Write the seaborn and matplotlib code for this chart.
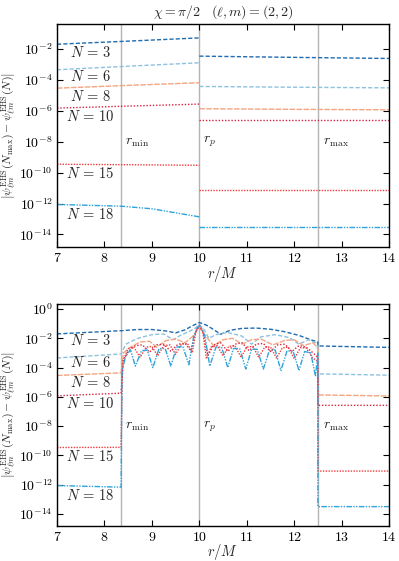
import numpy as np
import pandas as pd
import matplotlib
matplotlib.use("Agg")
import matplotlib.pyplot as plt
from matplotlib.ticker import FuncFormatter, NullLocator
import seaborn as sns

# ---- data (log10 of the error) ----
N_vals = [3, 6, 8, 10, 15, 18]

# upper panel: two pieces, 7..10 and 10..14
r_left_top = [7.0, 8.5, 10.0]
r_right_top = [10.0, 12.0, 14.0]
top_left = {
    3: [-1.70, -1.50, -1.29],
    6: [-3.35, -3.12, -2.90],
    8: [-4.54, -4.36, -4.19],
    10: [-5.83, -5.70, -5.57],
    15: [-9.46, -9.49, -9.53],
    18: [-12.06, -12.20, -12.86],
}
top_right = {
    3: [-2.47, -2.55, -2.62],
    6: [-4.43, -4.48, -4.52],
    8: [-5.87, -5.91, -5.94],
    10: [-6.58, -6.58, -6.58],
    15: [-11.10, -11.10, -11.10],
    18: [-13.50, -13.50, -13.50],
}
# the N=18 left piece bends down, it gets one more point
top_left_r18 = [7.0, 8.35, 9.0, 10.0]
top_left_18 = [-12.06, -12.17, -12.34, -12.86]

# lower panel: one curve each, with jumps at r_min and r_max
r3b = [7.0, 8.35, 8.7, 9.0, 9.3, 9.5, 9.7, 9.85, 10.0, 10.15, 10.3, 10.45, 10.65,
       10.9, 11.2, 11.5, 11.8, 12.1, 12.35, 12.5, 12.5, 13.2, 14.0]
l3b = [-1.70, -1.48, -1.40, -1.40, -1.50, -1.63, -1.42, -1.15, -0.92, -1.10, -1.40,
       -1.72, -1.45, -1.32, -1.30, -1.38, -1.55, -1.80, -2.10, -2.25, -2.52, -2.57, -2.62]

r6b = [7.0, 8.35, 8.45, 8.7, 9.0, 9.25, 9.45, 9.6, 9.8, 9.9, 10.0, 10.1, 10.2, 10.35,
       10.6, 10.9, 11.1, 11.3, 11.6, 11.9, 12.1, 12.3, 12.45, 12.5, 12.5, 13.2, 14.0]
l6b = [-3.34, -3.07, -2.40, -2.00, -1.75, -1.70, -2.10, -1.80, -1.50, -1.35, -1.05, -1.40,
       -2.00, -1.75, -1.60, -1.85, -2.40, -1.90, -1.75, -1.95, -2.40, -2.10, -2.30, -2.60,
       -4.43, -4.47, -4.52]

r8b = [7.0, 8.35, 8.4, 8.55, 8.75, 8.95, 9.1, 9.3, 9.5, 9.7, 9.85, 10.0, 10.15, 10.3,
       10.5, 10.7, 10.9, 11.1, 11.3, 11.55, 11.8, 12.0, 12.2, 12.4, 12.5, 12.5, 13.2, 14.0]
l8b = [-4.54, -4.36, -3.00, -2.60, -2.25, -2.20, -2.60, -2.15, -2.05, -2.30, -1.90, -1.25,
       -1.90, -2.50, -2.10, -2.00, -2.40, -2.10, -2.05, -2.45, -2.15, -2.10, -2.50, -2.30,
       -2.70, -5.87, -5.90, -5.94]

r10b = [7.0, 8.35, 8.4, 8.5, 8.65, 8.8, 8.95, 9.1, 9.25, 9.4, 9.55, 9.7, 9.82, 9.92, 10.0,
        10.08, 10.18, 10.3, 10.45, 10.6, 10.75, 10.9, 11.05, 11.2, 11.35, 11.5, 11.65,
        11.8, 11.95, 12.1, 12.25, 12.4, 12.5, 12.5, 13.2, 14.0]
l10b = [-5.93, -5.75, -3.50, -2.90, -2.50, -2.45, -2.95, -2.45, -2.40, -2.90, -2.40, -2.35,
        -2.85, -1.60, -1.15, -1.60, -3.20, -2.45, -2.30, -2.90, -2.40, -2.30, -2.85, -2.40,
        -2.35, -2.90, -2.45, -2.40, -2.90, -2.50, -2.60, -3.00, -3.30, -6.58, -6.58, -6.58]

r15b = [7.0, 8.35, 8.38, 8.5, 8.62, 8.75, 8.88, 9.0, 9.12, 9.25, 9.38, 9.5, 9.62, 9.75,
        9.85, 9.93, 10.0, 10.07, 10.15, 10.25, 10.38, 10.5, 10.62, 10.75, 10.88, 11.0,
        11.13, 11.25, 11.38, 11.5, 11.63, 11.75, 11.88, 12.0, 12.13, 12.25, 12.38, 12.5,
        12.5, 13.2, 14.0]
l15b = [-9.46, -9.45, -3.60, -2.70, -2.60, -3.30, -2.60, -2.55, -3.20, -2.50, -2.45, -3.10,
        -2.40, -2.35, -3.00, -1.50, -1.10, -1.50, -3.40, -2.60, -2.50, -3.20, -2.55, -2.50,
        -3.30, -2.60, -2.55, -3.30, -2.60, -2.60, -3.35, -2.65, -2.60, -3.40, -2.65, -2.65,
        -3.30, -3.60, -11.07, -11.07, -11.07]

r18b = [7.0, 8.35, 8.37, 8.45, 8.55, 8.65, 8.78, 8.9, 9.02, 9.15, 9.28, 9.4, 9.52, 9.65,
        9.78, 9.88, 9.95, 10.0, 10.05, 10.12, 10.22, 10.35, 10.47, 10.6, 10.72, 10.85,
        10.98, 11.1, 11.22, 11.35, 11.48, 11.6, 11.72, 11.85, 11.98, 12.1, 12.22, 12.35,
        12.45, 12.5, 12.5, 13.2, 14.0]
l18b = [-12.06, -12.17, -4.20, -3.20, -2.80, -3.90, -2.85, -2.80, -4.00, -2.70, -2.70,
        -3.90, -2.60, -2.55, -3.80, -1.90, -1.30, -1.15, -1.30, -1.90, -3.90, -2.60, -2.60,
        -4.00, -2.70, -2.70, -4.10, -2.75, -2.75, -4.10, -2.80, -2.80, -4.20, -2.85, -2.90,
        -4.20, -2.90, -3.00, -4.60, -3.00, -13.50, -13.50, -13.50]

bottom_r = {3: r3b, 6: r6b, 8: r8b, 10: r10b, 15: r15b, 18: r18b}
bottom_l = {3: l3b, 6: l6b, 8: l8b, 10: l10b, 15: l15b, 18: l18b}

r_min, r_p, r_max = 8.35, 10.0, 12.5

# ---- styling ----
colors = {3: "#1f6cb0", 6: "#8dc2df", 8: "#f4a582", 10: "#d6233f", 15: "#f23b3b", 18: "#2ea3dc"}
styles = {3: (0, (3, 1.5)), 6: (0, (3, 1.5)), 8: (0, (4, 1)), 10: (0, (1, 1.3)),
          15: (0, (1, 1)), 18: (0, (4, 1, 1, 1, 1, 1))}
label_y_top = {3: -2.25, 6: -3.8, 8: -5.1, 10: -6.4, 15: -10.05, 18: -12.7}
label_y_bot = {3: -2.18, 6: -3.67, 8: -5.0, 10: -6.45, 15: -10.05, 18: -12.75}

sns.set_style("ticks")
plt.rcParams.update({
    "font.family": "serif",
    "font.serif": ["DejaVu Serif"],
    "mathtext.fontset": "cm",
    "axes.linewidth": 1.0,
    "xtick.direction": "in",
    "ytick.direction": "in",
    "xtick.top": True,
    "ytick.right": True,
    "xtick.major.size": 4,
    "ytick.major.size": 4,
    "axes.edgecolor": "black",
})

fig = plt.figure(figsize=(3.99, 5.61), dpi=100)
ax1 = fig.add_axes([0.143, 0.560, 0.832, 0.397])
ax2 = fig.add_axes([0.143, 0.063, 0.832, 0.395])

def line(ax, r, logv, n):
    df = pd.DataFrame({"r": r, "val": 10.0 ** np.array(logv)})
    sns.lineplot(data=df, x="r", y="val", ax=ax, color=colors[n], linestyle=styles[n],
                 lw=1.0, sort=False, estimator=None, legend=False)

for n in N_vals:
    if n == 18:
        line(ax1, top_left_r18, top_left_18, n)
    else:
        line(ax1, r_left_top, top_left[n], n)
    line(ax1, r_right_top, top_right[n], n)
    line(ax2, bottom_r[n], bottom_l[n], n)

ylab = r"$\left|\psi^{\rm EHS}_{\ell m}(N_{\max})-\psi^{\rm EHS}_{\ell m}(N)\right|$"
for ax, ylo, yhi, labys, ticks in [
    (ax1, 10 ** -14.8, 10 ** -0.4, label_y_top, [1e-14, 1e-12, 1e-10, 1e-8, 1e-6, 1e-4, 1e-2]),
    (ax2, 10 ** -14.8, 10 ** 0.34, label_y_bot, [1e-14, 1e-12, 1e-10, 1e-8, 1e-6, 1e-4, 1e-2, 1e0]),
]:
    for rv in (r_min, r_p, r_max):
        ax.axvline(rv, color="#b4b4b4", lw=1.0, zorder=0)
    ax.set_yscale("log")
    ax.set_xlim(7, 14)
    ax.set_ylim(ylo, yhi)
    ax.set_yticks(ticks)
    ax.yaxis.set_minor_locator(NullLocator())
    ax.set_xticks(range(7, 15))
    ax.yaxis.set_major_formatter(FuncFormatter(lambda v, _: r"$10^{%d}$" % int(round(np.log10(v)))))
    ax.xaxis.set_major_formatter(FuncFormatter(lambda v, _: r"$%d$" % int(round(v))))
    ax.tick_params(labelsize=10, width=0.8, colors="black", pad=3)
    for s in ax.spines.values():
        s.set_visible(True)
        s.set_color("black")
    ax.set_xlabel(r"$r/M$", fontsize=10.5)
    ax.xaxis.set_label_coords(0.5, -0.075)
    ax.set_ylabel(ylab, fontsize=8.5)
    ax.yaxis.set_label_coords(-0.118, 0.5)
    for n in N_vals:
        ax.text(7.7, 10 ** labys[n], r"$N\,=\,%d$" % n, ha="center", va="center", fontsize=10.5)
    ax.text(8.43, 10 ** -8.0, r"$r_{\min}$", ha="left", va="center", fontsize=10)
    ax.text(10.08, 10 ** -8.0, r"$r_{p}$", ha="left", va="center", fontsize=10)
    ax.text(12.6, 10 ** -8.0, r"$r_{\max}$", ha="left", va="center", fontsize=10)

ax1.set_title(r"$\chi=\pi/2 \quad (\ell,m)=(2,2)$", fontsize=10, pad=6)

fig.savefig("out.png", dpi=100)
